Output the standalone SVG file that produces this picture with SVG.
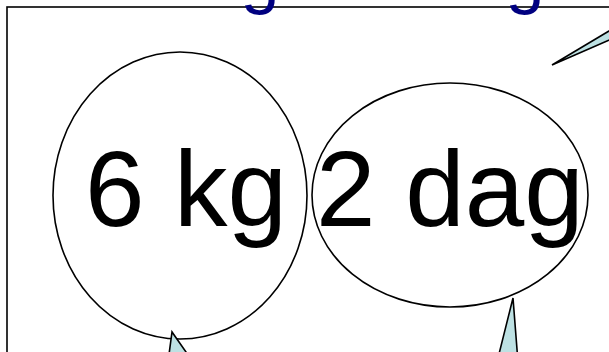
<svg xmlns="http://www.w3.org/2000/svg" width="609" height="352" viewBox="0 0 609 352">
<style>
.frame{fill:none;stroke:#000;stroke-width:1.6}
.node{fill:#fff;stroke:#000;stroke-width:1.6}
.lbl{font-family:"Liberation Sans",Arial,sans-serif;font-size:107px;fill:#000;text-anchor:middle}
.title{font-family:"Liberation Sans",Arial,sans-serif;font-size:70px;fill:#000080;text-anchor:middle}
.ptr{fill:#bde1e3;stroke:#000;stroke-width:1.6;stroke-linejoin:miter}
</style>
<rect width="609" height="352" fill="#fff"/>
<rect class="frame" x="7" y="7" width="640" height="380"/>
<g id="title">
<text class="title" x="260" y="0">g</text>
<text class="title" x="525" y="0">g</text>
</g>
<g id="node-6kg">
<ellipse class="node" cx="180" cy="195.5" rx="127" ry="143.5"/>
<text class="lbl" x="186" y="226">6 kg</text>
</g>
<g id="node-2dag">
<ellipse class="node" cx="450" cy="195" rx="138" ry="112"/>
<text class="lbl" x="450" y="226">2 dag</text>
</g>
<g id="connectors">
<polygon class="ptr" points="552,65 620,24.5 620,35.2"/>
<polygon class="ptr" points="172,332 168,362 193,362"/>
<polygon class="ptr" points="513,298 497,362 518,362"/>
</g>
</svg>
